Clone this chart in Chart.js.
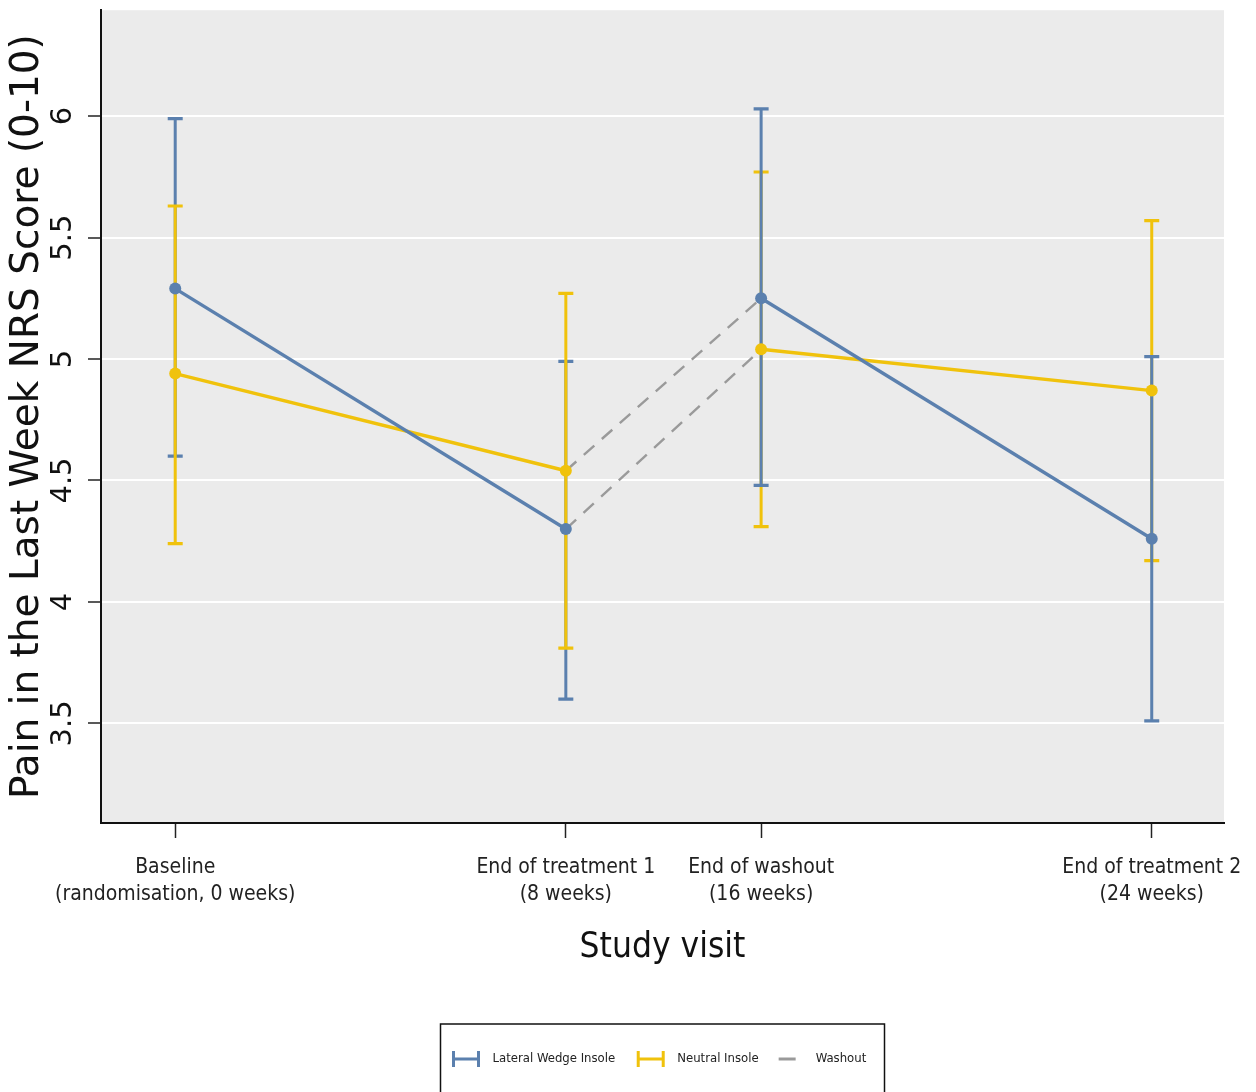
<!DOCTYPE html>
<html>
<head>
<meta charset="utf-8">
<script src="https://cdn.jsdelivr.net/npm/chart.js@4.4.1/dist/chart.umd.min.js"></script>
<style>
  html,body{margin:0;padding:0;background:#fff}
  #wrap{width:1256px;height:1092px;position:relative}
</style>
</head>
<body>
<div id="wrap"><canvas id="chart"></canvas></div>
<script>
// ── Data ──────────────────────────────────────────────────────────────────
const VISITS   = [['Baseline','(randomisation, 0 weeks)'],['End of treatment 1','(8 weeks)'],
                  ['End of washout','(16 weeks)'],['End of treatment 2','(24 weeks)']];
const VISIT_X  = [0, 2, 3, 5];
const Y_TICKS  = [3.5, 4, 4.5, 5, 5.5, 6];

const LWI_MEAN = [5.29, 4.30, 5.25, 4.26];
const LWI_LO   = [4.60, 3.60, 4.48, 3.51];
const LWI_HI   = [5.99, 4.99, 6.03, 5.01];

const NI_MEAN  = [4.94, 4.54, 5.04, 4.87];
const NI_LO    = [4.24, 3.81, 4.31, 4.17];
const NI_HI    = [5.63, 5.27, 5.77, 5.57];

const LEGEND   = ['Lateral Wedge Insole','Neutral Insole','Washout'];

// ── Style ─────────────────────────────────────────────────────────────────
const BLUE = '#5b80ae', YELLOW = '#f0c20c', GREY = '#9a9a9a';
const NARROW = '"Liberation Sans Narrow","DejaVu Sans Condensed","Open Sans",sans-serif';
const WIDE = '"DejaVu Sans",Verdana,sans-serif';

const pts = ys => VISIT_X.map((x, i) => ({x, y:ys[i]}));
// washout: groups cross over between end of treatment 1 and end of washout
const cross = (from, to) => [{x:VISIT_X[1], y:from[1]}, {x:VISIT_X[2], y:to[2]}];

// plot background
const bgPlugin = {
  id:'bg',
  beforeDraw(c){
    const {ctx, chartArea:a} = c;
    ctx.save(); ctx.fillStyle = '#ebebeb';
    ctx.fillRect(a.left, a.top, a.right-a.left, a.bottom-a.top);
    ctx.restore();
  }
};

// error bars (CI) from the LO/HI arrays
const errPlugin = {
  id:'err',
  beforeDatasetsDraw(c){
    const {ctx, scales:{x, y}} = c;
    const bar = (i, lo, hi, col) => {
      const px = x.getPixelForValue(VISIT_X[i]);
      const p1 = y.getPixelForValue(lo[i]), p2 = y.getPixelForValue(hi[i]);
      ctx.strokeStyle = col; ctx.lineWidth = 3;
      ctx.beginPath(); ctx.moveTo(px, p1); ctx.lineTo(px, p2); ctx.stroke();
      ctx.lineWidth = 3.2;
      ctx.beginPath();
      ctx.moveTo(px-7.5, p1); ctx.lineTo(px+7.5, p1);
      ctx.moveTo(px-7.5, p2); ctx.lineTo(px+7.5, p2);
      ctx.stroke();
    };
    ctx.save();
    VISIT_X.forEach((_, i) => {
      const b = () => bar(i, LWI_LO, LWI_HI, BLUE), n = () => bar(i, NI_LO, NI_HI, YELLOW);
      if (i < 2) { b(); n(); } else { n(); b(); }
    });
    ctx.restore();
  }
};

// rotated y tick labels
const yLabelPlugin = {
  id:'ylab',
  afterDraw(c){
    const {ctx, scales:{y}} = c;
    ctx.save();
    ctx.font = '29px ' + WIDE; ctx.fillStyle = '#111';
    ctx.textAlign = 'center'; ctx.textBaseline = 'middle';
    y.ticks.forEach(t => {
      ctx.save();
      ctx.translate(63, y.getPixelForValue(t.value));
      ctx.rotate(-Math.PI/2);
      ctx.fillText(String(t.value), 0, 0);
      ctx.restore();
    });
    ctx.restore();
  }
};

// boxed legend under the chart
const legendPlugin = {
  id:'lgd',
  afterDraw(c){
    const {ctx, chartArea:a} = c;
    const w = 444, left = (a.left + a.right)/2 - w/2, top = 1024, cy = 1059;
    ctx.save();
    ctx.strokeStyle = '#111'; ctx.lineWidth = 1.5;
    ctx.strokeRect(left, top, w, 120);
    ctx.font = '13px ' + NARROW; ctx.fillStyle = '#222'; ctx.textBaseline = 'middle';
    let xx = left + 12;
    [BLUE, YELLOW, GREY].forEach((col, k) => {
      ctx.strokeStyle = col; ctx.lineWidth = 3;
      ctx.beginPath();
      if (k < 2) {
        ctx.moveTo(xx, cy); ctx.lineTo(xx+27, cy);
        ctx.moveTo(xx+1, cy-8); ctx.lineTo(xx+1, cy+8);
        ctx.moveTo(xx+26, cy-8); ctx.lineTo(xx+26, cy+8);
        ctx.stroke(); xx += 40;
      } else {
        xx -= 2;
        ctx.moveTo(xx, cy); ctx.lineTo(xx+17, cy); ctx.stroke(); xx += 37;
      }
      ctx.fillText(LEGEND[k], xx, cy);
      xx += ctx.measureText(LEGEND[k]).width + 22;
    });
    ctx.restore();
  }
};

const washout = data => ({ label:LEGEND[2], data, borderColor:GREY, borderWidth:2.4,
                           borderDash:[14,10], pointRadius:0, order:2 });

new Chart(document.getElementById('chart'), {
  type:'line',
  data:{ datasets:[
    { label:LEGEND[0], data:pts(LWI_MEAN), borderColor:BLUE, backgroundColor:BLUE,
      borderWidth:3.4, pointRadius:6, pointBackgroundColor:BLUE, pointBorderWidth:0, order:0,
      segment:{ borderColor: s => s.p0DataIndex === 1 ? 'transparent' : BLUE } },
    { label:LEGEND[1], data:pts(NI_MEAN), borderColor:YELLOW, backgroundColor:YELLOW,
      borderWidth:3.4, pointRadius:6, pointBackgroundColor:YELLOW, pointBorderWidth:0, order:1,
      segment:{ borderColor: s => s.p0DataIndex === 1 ? 'transparent' : YELLOW } },
    washout(cross(NI_MEAN, LWI_MEAN)),
    washout(cross(LWI_MEAN, NI_MEAN))
  ]},
  options:{
    responsive:true, maintainAspectRatio:false, animation:false,
    layout:{ padding:{ top:10, right:32, bottom:123, left:0 } },
    plugins:{ legend:{display:false}, tooltip:{enabled:false} },
    scales:{
      x:{ type:'linear', min:-0.38, max:5.37,
          afterBuildTicks: s => { s.ticks = VISIT_X.map(v => ({value:v})); },
          afterFit: s => { s.height = 146; s.paddingLeft = 0; s.paddingRight = 0; },
          grid:{ drawOnChartArea:false, tickLength:15, tickColor:'#222', tickWidth:1.5 },
          border:{ color:'#111', width:2 },
          ticks:{ color:'#222', font:{family:NARROW, size:21, lineHeight:1.24}, padding:17,
                  maxRotation:0, autoSkip:false,
                  callback: v => VISITS[VISIT_X.indexOf(v)] },
          title:{ display:true, text:'Study visit', color:'#111',
                  font:{family:NARROW, size:35}, padding:0 } },
      y:{ min:3.09, max:6.436,
          afterBuildTicks: s => { s.ticks = Y_TICKS.map(v => ({value:v})); },
          afterFit: s => { s.width = 101; },
          grid:{ color:'#ffffff', lineWidth:2, tickLength:13, tickColor:'#222', tickWidth:1.5 },
          border:{ color:'#111', width:2 },
          ticks:{ color:'transparent', font:{size:12} },
          title:{ display:true, text:'Pain in the Last Week NRS Score (0-10)', color:'#111',
                  font:{family:WIDE, size:39}, padding:{top:4,bottom:0} } }
    }
  },
  plugins:[bgPlugin, errPlugin, yLabelPlugin, legendPlugin]
});
</script>
</body>
</html>
